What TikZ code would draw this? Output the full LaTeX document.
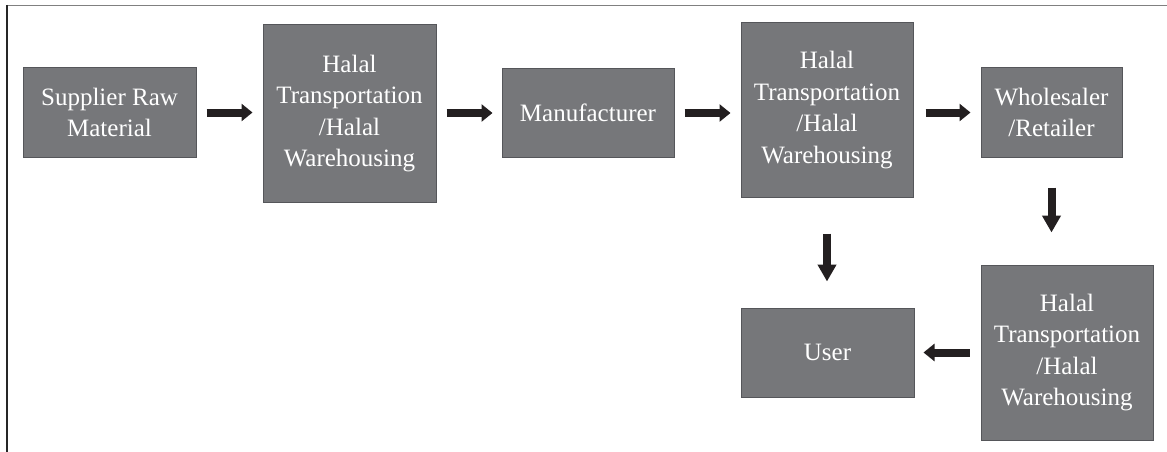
\documentclass[tikz,border=0pt]{standalone}
\usepackage{fontspec}
\setmainfont{Liberation Serif}
\usetikzlibrary{arrows.meta}

\definecolor{boxgrey}{HTML}{76777A}
\definecolor{boxedge}{HTML}{55565A}
\definecolor{arrowblack}{HTML}{231F20}

\tikzset{
  stage/.style={draw=boxedge, line width=1pt, fill=boxgrey, text=white,
    align=center, inner sep=0pt, font=\fontsize{25}{31.5}\selectfont},
  flow/.style={draw=arrowblack, line width=8pt, -{Triangle[length=11pt,width=17pt]}},
  downflow/.style={flow, -{Triangle[length=17pt,width=18pt]}}
}

\begin{document}
\begin{tikzpicture}[x=1pt,y=-1pt]
        \useasboundingbox (0,0) rectangle (1167,452);
        % frame
        \draw[gray, line width=1.5pt] (7,5.5) -- (1167,5.5);
        \draw[black!85, line width=1.5pt] (7,5) -- (7,452);

        % top row
        \node[stage, minimum width=173pt, minimum height=89pt] (sup) at (109.5,112.5) {Supplier Raw\\Material};
        \node[stage, minimum width=173pt, minimum height=177pt] (htA) at (349.5,113.5) {Halal\\Transportation\\/Halal\\Warehousing};
        \node[stage, minimum width=172pt, minimum height=88pt] (manu) at (588,113) {Manufacturer};
        \node[stage, minimum width=172pt, minimum height=174pt] (htB) at (827,110) {Halal\\Transportation\\/Halal\\Warehousing};
        \node[stage, minimum width=141pt, minimum height=89pt] (whole) at (1051.5,112.5) {Wholesaler\\/Retailer};

        % bottom row
        \node[stage, minimum width=172pt, minimum height=175pt] (htC) at (1067,352.5) {Halal\\Transportation\\/Halal\\Warehousing};
        \node[stage, minimum width=173pt, minimum height=89pt] (user) at (827.5,352.5) {User};

        \draw[flow, shorten <=10pt, shorten >=10pt] (sup.east) -- (sup.east -| htA.west);
        \draw[flow, shorten <=10pt, shorten >=9pt] (htA.east |- manu.east) -- (manu.east -| manu.west);
        \draw[flow, shorten <=10pt, shorten >=10pt] (manu.east) -- (manu.east -| htB.west);
        \draw[flow, shorten <=12pt, shorten >=10pt] (htB.east |- whole.west) -- (whole.west);
        \draw[downflow, shorten <=30pt, shorten >=32pt] (whole.south) -- (whole.south |- htC.north);
        \draw[downflow, shorten <=36pt, shorten >=26pt] (htB.south) -- (htB.south |- user.north);
        \draw[flow, shorten <=11pt, shorten >=9pt] (htC.west |- user.east) -- (user.east);
\end{tikzpicture}
\end{document}
